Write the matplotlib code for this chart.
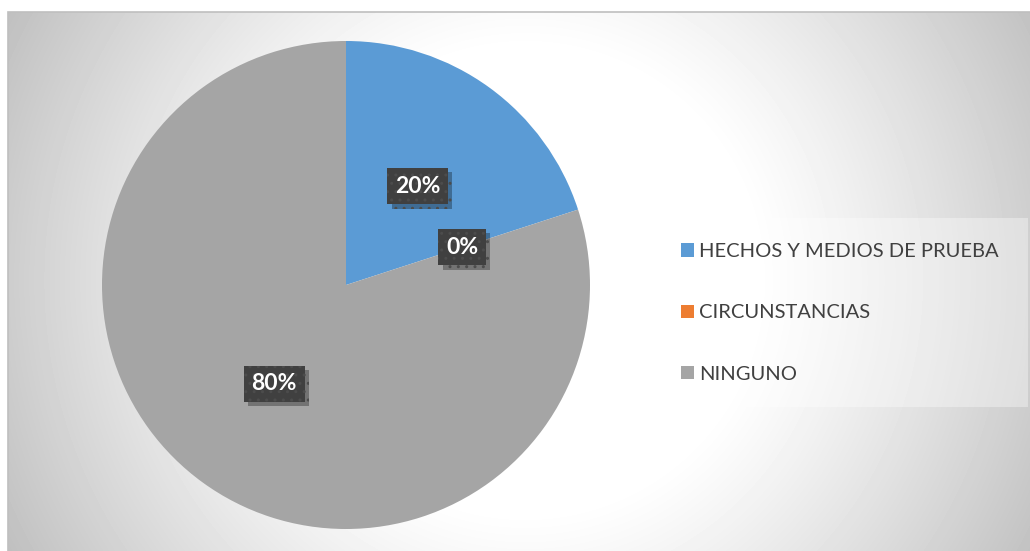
import numpy as np
import matplotlib
matplotlib.use("Agg")
import matplotlib.pyplot as plt
from matplotlib.patches import Rectangle
import matplotlib.patheffects as pe

categories = ["HECHOS Y MEDIOS DE PRUEBA", "CIRCUNSTANCIAS", "NINGUNO"]
values = [20, 0, 80]
colors = ["#5B9BD5", "#ED7D31", "#A5A5A5"]

W, H = 1030, 551
fig = plt.figure(figsize=(W / 100, H / 100), dpi=100)
fig.patch.set_facecolor("white")

# background gradient (chart area)
bg = fig.add_axes([8 / W, 0, 1 - 8 / W, 1 - 12 / H], zorder=0)
yy, xx = np.mgrid[12:H:1.0, 8:W:1.0]
r = np.hypot(xx - 525, yy - 280)
v = 1.0 - 0.23 * np.clip((r - 230) / 330, 0, None) ** 1.15
bg.imshow(v, cmap="gray", vmin=0, vmax=1, aspect="auto",
          extent=[0, 1, 0, 1], interpolation="bilinear")
bg.set_xlim(0, 1)
bg.set_ylim(0, 1)
bg.axis("off")
fig.add_artist(Rectangle((8 / W, -0.01), 1.0, 1 - 12 / H + 0.01,
                         transform=fig.transFigure, fill=False,
                         edgecolor="#BFBFBF", linewidth=1.2, zorder=1))

# pie
cx, cy, rad = 346, 285, 244
ax = fig.add_axes([(cx - rad) / W, (H - cy - rad) / H, 2 * rad / W, 2 * rad / H], zorder=2)
ax.set_facecolor("none")
wedges, texts, autotexts = ax.pie(values, colors=colors, startangle=90, counterclock=False,
                                  autopct="%1.0f%%", pctdistance=0.5, radius=1,
                                  wedgeprops=dict(linewidth=0),
                                  textprops=dict(color="white", fontsize=16.5, fontweight="bold",
                                                 family=["Lato", "DejaVu Sans"]))
ax.set_xlim(-1, 1)
ax.set_ylim(-1, 1)
ax.set_aspect("equal")
ax.axis("off")
for t in autotexts:
    t.set_bbox(dict(boxstyle="square,pad=0.33", facecolor="#404040",
                    edgecolor="#4C4C4C", linewidth=0, hatch=".."))
    t.get_bbox_patch().set_path_effects([
        pe.SimplePatchShadow(offset=(3, -3), shadow_rgbFace="black", alpha=0.3),
        pe.Normal()])

# legend
fig.add_artist(Rectangle((653 / W, (H - 407) / H), (1028 - 653) / W, (407 - 218) / H,
                         transform=fig.transFigure, facecolor="white", alpha=0.35,
                         edgecolor="none", zorder=3))
leg = fig.legend(wedges, categories, loc="center left",
                 bbox_to_anchor=(681 / W, (H - 313) / H), frameon=False,
                 handlelength=0.65, handleheight=0.65, handletextpad=0.25,
                 labelspacing=2.2, borderaxespad=0, borderpad=0,
                 prop=dict(family="Lato", size=14.5))
for txt in leg.get_texts():
    txt.set_color("#404040")
leg.set_zorder(4)

fig.savefig("out.png", dpi=100)
